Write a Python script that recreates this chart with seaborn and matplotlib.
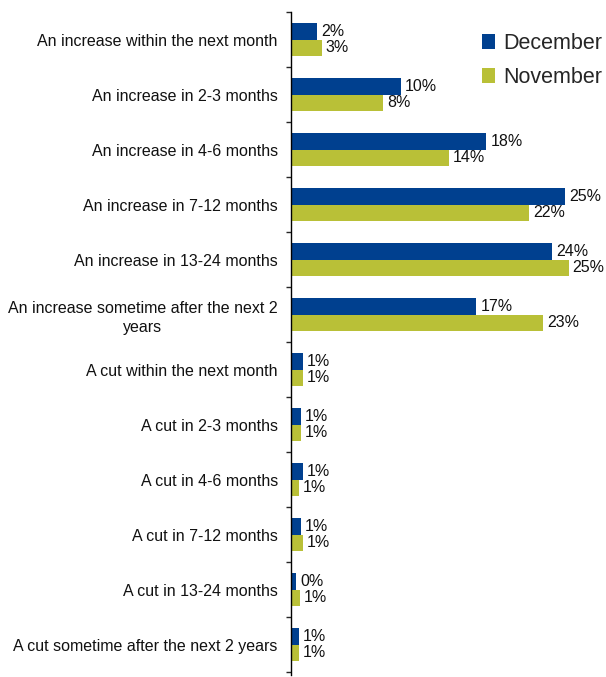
import pandas as pd
import seaborn as sns
import matplotlib.pyplot as plt
from matplotlib.ticker import FixedLocator

categorias = [
    "An increase within the next month",
    "An increase in 2-3 months",
    "An increase in 4-6 months",
    "An increase in 7-12 months",
    "An increase in 13-24 months",
    "An increase sometime after the next 2\nyears",
    "A cut within the next month",
    "A cut in 2-3 months",
    "A cut in 4-6 months",
    "A cut in 7-12 months",
    "A cut in 13-24 months",
    "A cut sometime after the next 2 years",
]
december = [2.4, 10.0, 17.8, 25.0, 23.8, 16.9, 1.1, 0.9, 1.1, 0.9, 0.45, 0.7]
november = [2.8, 8.4, 14.4, 21.7, 25.3, 23.0, 1.1, 0.9, 0.7, 1.1, 0.8, 0.7]
meses = ["December", "November"]
colores = ["#00408F", "#B9C037"]

df = pd.DataFrame({
    "categoria": categorias * 2,
    "valor": december + november,
    "mes": [meses[0]] * len(categorias) + [meses[1]] * len(categorias),
})

sns.set_style("white")
plt.rcParams["font.family"] = ["Liberation Sans", "DejaVu Sans"]

fig = plt.figure(figsize=(6.06, 6.77), dpi=100)
ax = fig.add_axes([291 / 606, 2 / 677, 1 - 291 / 606, 663 / 677])

sns.barplot(data=df, y="categoria", x="valor", hue="mes", palette=colores,
            orient="h", width=0.6, ax=ax, legend=True, saturation=1, linewidth=0)

for cont in ax.containers:
    ax.bar_label(cont, fmt="{:.0f}%", padding=3, fontsize=11.5, color="#111111")

ax.set_xlim(0, (606 - 291) / 10.97)
ax.set_ylim(11.55, -0.5)
ax.xaxis.set_visible(False)
for s in ["top", "right", "bottom"]:
    ax.spines[s].set_visible(False)
ax.spines["left"].set_color("black")
ax.spines["left"].set_linewidth(1)

ax.set_ylabel("")
ax.tick_params(axis="y", which="major", length=0, pad=9.5, labelsize=11.5)
ax.yaxis.set_minor_locator(FixedLocator([i - 0.5 for i in range(len(categorias) + 1)]))
ax.tick_params(axis="y", which="minor", length=3.5, width=1, direction="out", left=True)
for lbl in ax.get_yticklabels():
    lbl.set_multialignment("center")
    lbl.set_linespacing(1.35)
    lbl.set_color("#111111")

ax.get_legend().remove()
fig.legend(*ax.get_legend_handles_labels(), loc="upper left",
           bbox_to_anchor=(482 / 606, 1 - 33 / 677), frameon=False,
           fontsize=15.5, borderaxespad=0, borderpad=0, handlelength=0.6,
           handleheight=0.7, handletextpad=0.4, labelspacing=0.62)

plt.savefig("out.png", dpi=100)
